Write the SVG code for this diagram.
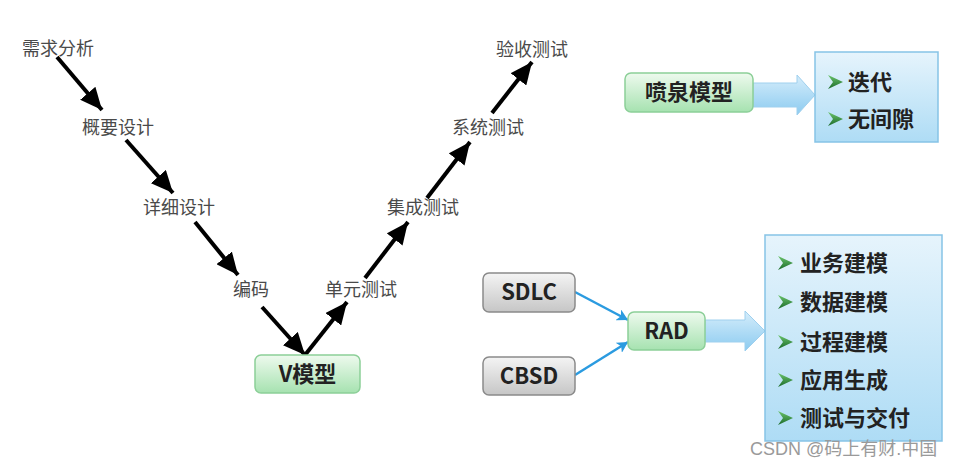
<svg xmlns="http://www.w3.org/2000/svg" width="960" height="468" viewBox="0 0 960 468">
<defs>
<style>
.lbl{font-family:"Noto Sans CJK SC","Noto Sans",sans-serif;font-size:18px;fill:#4a4a4a;}
.b{font-family:"Noto Sans CJK SC","Noto Sans",sans-serif;font-size:22px;font-weight:bold;fill:#222;}
.wm{font-family:"Liberation Sans","Noto Sans CJK SC",sans-serif;font-size:18px;fill:#9a9a9a;}
.blk{stroke:#000;stroke-width:4;fill:none;marker-end:url(#ah);}
.blu{stroke:#2b9be0;stroke-width:2.5;fill:none;marker-end:url(#bh);}
.gbox{fill:url(#gg);stroke:#8ccf98;stroke-width:1.5;}
.ybox{fill:url(#yg);stroke:#8a8a8a;stroke-width:1.5;}
.pbox{fill:url(#pg);stroke:#86c3e6;stroke-width:1.5;}
.barr{fill:url(#ag);stroke:#9fd0ee;stroke-width:1;}
</style>
<marker id="ah" markerUnits="userSpaceOnUse" markerWidth="24" markerHeight="20" refX="22" refY="10" orient="auto">
<path d="M0,0 L22,10 L0,20 Z" fill="#000"/>
</marker>
<marker id="bh" markerUnits="userSpaceOnUse" markerWidth="12" markerHeight="12" refX="11" refY="6" orient="auto">
<path d="M0,0 L11,6 L0,12 L3,6 Z" fill="#2b9be0"/>
</marker>
<linearGradient id="gg" x1="0" y1="0" x2="0" y2="1">
<stop offset="0" stop-color="#eefaee"/><stop offset="1" stop-color="#a6e2b0"/>
</linearGradient>
<linearGradient id="yg" x1="0" y1="0" x2="0" y2="1">
<stop offset="0" stop-color="#f4f4f4"/><stop offset="1" stop-color="#c6c6c6"/>
</linearGradient>
<linearGradient id="pg" x1="0" y1="0" x2="0" y2="1">
<stop offset="0" stop-color="#e6f4fc"/><stop offset="1" stop-color="#aedcf5"/>
</linearGradient>
<linearGradient id="ag" x1="0" y1="0" x2="0" y2="1">
<stop offset="0" stop-color="#d5edfb"/><stop offset="1" stop-color="#8ccbf0"/>
</linearGradient>
<linearGradient id="bg" x1="0" y1="0" x2="0" y2="1">
<stop offset="0" stop-color="#6cc46c"/><stop offset="1" stop-color="#1b6b2a"/>
</linearGradient>
<path id="bul" d="M0,-7 L15,0 L0,7 L5,0 Z" fill="url(#bg)"/>
</defs>
<rect width="960" height="468" fill="#fff"/>

<g id="connectors">
<line class="blk" x1="57" y1="57" x2="102" y2="110"/>
<line class="blk" x1="126" y1="140" x2="173" y2="193"/>
<line class="blk" x1="195" y1="222" x2="238" y2="275"/>
<line class="blk" x1="262" y1="307" x2="305" y2="355"/>
<line class="blk" x1="305" y1="355" x2="347" y2="302"/>
<line class="blk" x1="365" y1="278" x2="408" y2="222"/>
<line class="blk" x1="427" y1="198" x2="470" y2="142"/>
<line class="blk" x1="492" y1="113" x2="532" y2="62"/>
<line class="blu" x1="575" y1="292" x2="628" y2="320"/>
<line class="blu" x1="575" y1="375" x2="628" y2="342"/>
<path class="barr" d="M753,83 L797,83 L797,75 L815,95 L797,115 L797,107 L753,107 Z"/>
<path class="barr" d="M705,320 L745,320 L745,311 L765,331 L745,351 L745,342 L705,342 Z"/>
</g>

<g id="n-xqfx"><text class="lbl" x="22" y="55">需求分析</text></g>
<g id="n-gysj"><text class="lbl" x="82" y="134">概要设计</text></g>
<g id="n-xxsj"><text class="lbl" x="143" y="214">详细设计</text></g>
<g id="n-bm"><text class="lbl" x="233" y="296">编码</text></g>
<g id="n-dycs"><text class="lbl" x="325" y="296">单元测试</text></g>
<g id="n-jccs"><text class="lbl" x="387" y="214">集成测试</text></g>
<g id="n-xtcs"><text class="lbl" x="452" y="134">系统测试</text></g>
<g id="n-yscs"><text class="lbl" x="496" y="56">验收测试</text></g>

<g id="n-v">
<rect class="gbox" x="255" y="355" width="105" height="38" rx="6"/>
<text class="b" x="307.5" y="382" text-anchor="middle">V模型</text>
</g>

<g id="n-fountain">
<rect class="gbox" x="625" y="73" width="128" height="39" rx="6"/>
<text class="b" x="689" y="100" text-anchor="middle">喷泉模型</text>
</g>
<g id="n-fountain-list">
<rect class="pbox" x="815" y="52" width="123" height="90"/>
<use href="#bul" x="828" y="82"/>
<text class="b" x="848" y="90">迭代</text>
<use href="#bul" x="828" y="119"/>
<text class="b" x="848" y="127">无间隙</text>
</g>

<g id="n-sdlc">
<rect class="ybox" x="483" y="273" width="92" height="39" rx="6"/>
<text class="b" x="529" y="300" text-anchor="middle">SDLC</text>
</g>
<g id="n-cbsd">
<rect class="ybox" x="483" y="357" width="92" height="38" rx="6"/>
<text class="b" x="529" y="384" text-anchor="middle">CBSD</text>
</g>
<g id="n-rad">
<rect class="gbox" x="628" y="312" width="77" height="38" rx="6"/>
<text class="b" x="666.5" y="339" text-anchor="middle">RAD</text>
</g>
<g id="n-rad-list">
<rect class="pbox" x="765" y="235" width="177" height="206"/>
<use href="#bul" x="778" y="263"/>
<text class="b" x="800" y="271">业务建模</text>
<use href="#bul" x="778" y="302"/>
<text class="b" x="800" y="310">数据建模</text>
<use href="#bul" x="778" y="342"/>
<text class="b" x="800" y="350">过程建模</text>
<use href="#bul" x="778" y="380"/>
<text class="b" x="800" y="388">应用生成</text>
<use href="#bul" x="778" y="418"/>
<text class="b" x="800" y="426">测试与交付</text>
</g>

<text class="wm" x="750" y="455">CSDN @码上有财.中国</text>
</svg>
